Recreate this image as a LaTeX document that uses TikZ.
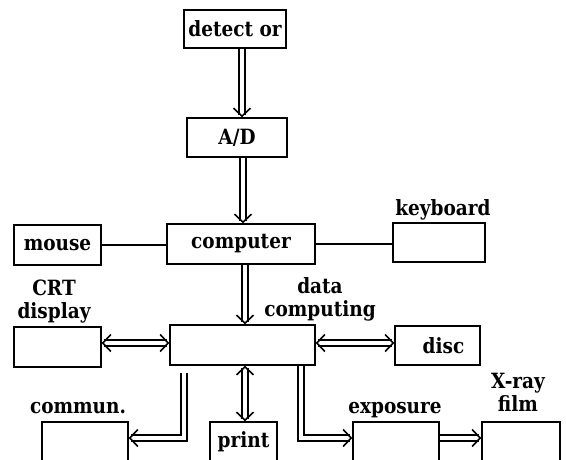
\documentclass[tikz,border=0pt]{standalone}
\usepackage{fontspec}
\usetikzlibrary{arrows.meta}
\newfontfamily\diafont{DejaVu Serif}[FakeStretch=0.88]
\begin{document}
\begin{tikzpicture}[x=1pt,y=-1pt,
  box/.style={draw,line width=1.5pt,inner sep=0pt,font=\diafont\bfseries\fontsize{21}{23}\selectfont},
  lbl/.style={inner sep=0pt,align=center,font=\diafont\bfseries\fontsize{21}{23}\selectfont},
  dbl/.style={double,line width=1.4pt,double distance=4.5pt,-{Straight Barb[length=8pt,width=17pt,line width=1.6pt]}},
  dblb/.style={double,line width=1.4pt,double distance=4.5pt,{Straight Barb[length=8pt,width=17pt,line width=1.6pt]}-{Straight Barb[length=8pt,width=17pt,line width=1.6pt]}},
  single/.style={line width=1.2pt}]
\clip (0,0) rectangle (566,459);
% boxes
\node[box,minimum width=102pt,minimum height=38pt] (det) at (235,29) {detect or};
\node[box,minimum width=100pt,minimum height=39pt] (ad) at (237,137.5) {A/D};
\node[box,minimum width=87pt,minimum height=40pt] (mouse) at (57.5,245) {mouse};
\node[box,minimum width=148pt,minimum height=40pt] (comp) at (241,244) {computer};
\node[box,minimum width=92pt,minimum height=39pt] (kb) at (439,242.5) {};
\node[box,minimum width=87pt,minimum height=40pt] (crt) at (57.5,347) {};
\node[box,minimum width=145pt,minimum height=40pt] (ctr) at (242.5,345) {};
\node[box,minimum width=85pt,minimum height=39pt] (disc) at (437.5,345.5) {\hspace*{12pt}disc};
\node[box,minimum width=86pt,minimum height=40pt] (com) at (85,442) {};
\node[box,minimum width=67pt,minimum height=40pt] (prn) at (243.5,442) {print};
\node[box,minimum width=86pt,minimum height=40pt] (exp) at (396,442) {};
\node[box,minimum width=78pt,minimum height=40pt] (xr) at (521,442) {};
% labels
\node[lbl,anchor=base] (kbl) at (443,215) {keyboard};
\node[lbl,anchor=base] (crtl) at (54,318) {CRT\\display};
\node[lbl,anchor=base] (dcl) at (320,316) {data\\computing};
\node[lbl,anchor=base] (coml) at (78,413) {commun.};
\node[lbl,anchor=base] (expl) at (395,413) {exposure};
\node[lbl,anchor=base] (xrl) at (518,411) {X-ray\\film};
% helper coordinates
\coordinate (xa) at (242,0);
\coordinate (xb) at (243,0);
\coordinate (xc) at (245,0);
\coordinate (xe) at (301,0);
\coordinate (ym) at (0,343);
\coordinate (yb) at (0,438);
\coordinate (cs) at (184,373);
\coordinate (cc) at (184,438);
\coordinate (ec) at (301,438);
% connectors
\draw[dbl] (det.south -| xa) -- (ad.north -| xa);
\draw[dbl] (ad.south -| xb) -- (comp.north -| xb);
\draw[dbl] (comp.south -| xc) -- (ctr.north -| xc);
\draw[single] (mouse.east) -- (mouse.east -| comp.west);
\draw[single] (comp.east) -- (comp.east -| kb.west);
\draw[dblb] (crt.east |- ym) -- (ctr.west |- ym);
\draw[dblb] (ctr.east |- ym) -- (disc.west |- ym);
\draw[dblb] (ctr.south -| xc) -- (prn.north -| xc);
\draw[dbl] (cs) -- (cc) -- (com.east |- yb);
\draw[dbl] (ctr.south -| xe) -- (ec) -- (exp.west |- yb);
\draw[dbl] (exp.east |- yb) -- (xr.west |- yb);
\end{tikzpicture}
\end{document}
